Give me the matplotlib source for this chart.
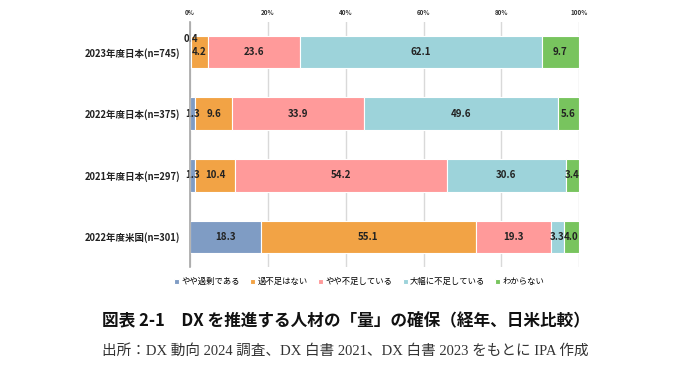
import matplotlib.pyplot as plt
import numpy as np

plt.rcParams["font.family"] = ["Noto Sans CJK JP", "DejaVu Sans"]

ROWS = [
    "2023年度日本(n=745)",
    "2022年度日本(n=375)",
    "2021年度日本(n=297)",
    "2022年度米国(n=301)",
]
CATEGORIES = ["やや過剰である", "過不足はない", "やや不足している", "大幅に不足している", "わからない"]
COLORS = ["#7f9cc4", "#f2a345", "#ff9a9a", "#9dd3da", "#78c45e"]

excess = [0.4, 1.3, 1.3, 18.3]
balanced = [4.2, 9.6, 10.4, 55.1]
slightly_short = [23.6, 33.9, 54.2, 19.3]
very_short = [62.1, 49.6, 30.6, 3.3]
unknown = [9.7, 5.6, 3.4, 4.0]

TICKS = [0, 20, 40, 60, 80, 100]


def main():
    series = [excess, balanced, slightly_short, very_short, unknown]
    y = np.arange(len(ROWS))

    fig = plt.figure(figsize=(6.98, 3.65), dpi=100)
    ax = fig.add_axes([0.272, 0.268, 0.558, 0.672])

    left = np.zeros(len(ROWS))
    for name, vals, color in zip(CATEGORIES, series, COLORS):
        vals = np.array(vals)
        ax.barh(y, vals, left=left, height=0.53, color=color,
                edgecolor="white", linewidth=0.8, label=name, zorder=3)
        for i, v in enumerate(vals):
            cx = left[i] + v / 2
            cy = y[i]
            if v < 1:
                # tiny segment: label sits over the top edge
                cy = y[i] - 0.22
            ax.text(cx, cy, f"{v:.1f}", ha="center", va="center",
                    fontsize=7, fontweight="bold", color="#222222", zorder=4)
        left += vals

    ax.set_xlim(0, 100)
    ax.set_ylim(3.49, -0.49)
    ax.set_yticks(y)
    ax.set_yticklabels(ROWS, fontsize=6.8, fontweight="bold", color="#222222")
    ax.set_xticks(TICKS)
    ax.set_xticklabels([f"{t}%" for t in TICKS], fontsize=4.5,
                       fontweight="bold", color="#333333")
    ax.xaxis.tick_top()
    ax.tick_params(axis="x", length=0, pad=4)
    ax.tick_params(axis="y", length=0, pad=7)
    ax.grid(axis="x", color="#d9d9d9", linewidth=1, zorder=0)
    for side in ["top", "right", "bottom"]:
        ax.spines[side].set_visible(False)
    ax.spines["left"].set_color("#a6a6a6")
    ax.spines["left"].set_linewidth(1.2)
    ax.spines["left"].set_zorder(5)

    handles, labels = ax.get_legend_handles_labels()
    fig.legend(handles, labels, loc="center", bbox_to_anchor=(0.515, 0.228),
               ncol=5, frameon=False, fontsize=6, handlelength=0.6,
               handleheight=0.6, handletextpad=0.3, columnspacing=1.2)

    fig.text(0.495, 0.123, "図表 2-1　DX を推進する人材の「量」の確保（経年、日米比較）",
             ha="center", va="center", fontsize=12, fontweight="bold", color="#111111")
    fig.text(0.495, 0.04, "出所：DX 動向 2024 調査、DX 白書 2021、DX 白書 2023 をもとに IPA 作成",
             ha="center", va="center", fontsize=10.5, color="#333333",
             family=["Liberation Serif", "Noto Sans CJK JP"])

    fig.savefig("out.png", dpi=100)


if __name__ == "__main__":
    main()
